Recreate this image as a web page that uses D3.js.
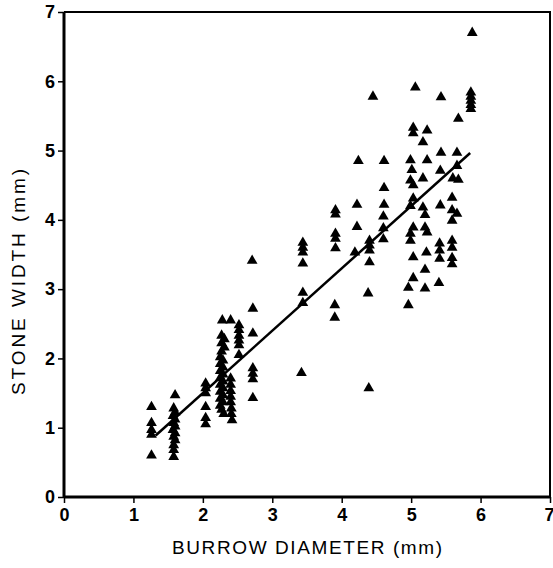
<!DOCTYPE html>
<html>
<head>
<meta charset="utf-8">
<script src="https://cdn.jsdelivr.net/npm/d3@7"></script>
<style>
  body { margin: 0; background: #fff; }
  svg { display: block; }
</style>
</head>
<body>
<svg id="chart" width="553" height="568"></svg>
<script>
// burrow diameter (mm), stone width (mm)
var points = [
  [1.26,1.3],[1.26,1.07],[1.26,0.97],[1.26,0.9],[1.26,0.6],
  [1.6,1.47],[1.58,1.28],[1.6,1.22],[1.57,1.17],[1.6,1.12],[1.58,1.07],[1.6,1.02],[1.57,0.97],
  [1.6,0.92],[1.58,0.87],[1.6,0.82],[1.58,0.75],[1.58,0.68],[1.58,0.58],
  [2.04,1.64],[2.04,1.57],[2.04,1.5],[2.04,1.3],[2.04,1.14],[2.04,1.05],
  [2.28,2.55],[2.4,2.55],[2.27,2.33],[2.31,2.28],[2.27,2.22],[2.31,2.16],[2.27,2.1],[2.25,2.02],
  [2.29,1.97],[2.25,1.92],[2.29,1.87],[2.25,1.82],[2.29,1.77],[2.25,1.72],[2.29,1.67],[2.25,1.62],
  [2.29,1.57],[2.25,1.52],[2.29,1.47],[2.25,1.42],[2.29,1.37],[2.25,1.32],[2.27,1.26],[2.3,1.2],
  [2.4,1.71],[2.4,1.62],[2.4,1.53],[2.4,1.45],[2.4,1.37],[2.41,1.28],[2.41,1.2],[2.42,1.11],
  [2.52,2.48],[2.52,2.41],[2.52,2.33],[2.52,2.26],[2.52,2.19],[2.52,2.05],
  [2.71,3.41],[2.72,2.72],[2.72,2.36],[2.72,1.86],[2.72,1.78],[2.72,1.7],[2.72,1.43],
  [3.44,3.67],[3.44,3.6],[3.44,3.53],[3.44,3.37],[3.44,2.95],[3.44,2.8],[3.42,1.79],
  [3.91,4.14],[3.91,4.08],[3.91,3.8],[3.91,3.73],[3.91,3.59],[3.9,2.77],[3.9,2.59],
  [4.24,4.85],[4.22,4.22],[4.22,3.9],[4.19,3.53],
  [4.45,5.78],[4.4,3.7],[4.4,3.63],[4.4,3.56],[4.4,3.39],[4.38,2.94],[4.39,1.57],
  [4.61,4.85],[4.61,4.46],[4.61,4.22],[4.6,4.05],[4.6,3.88],[4.6,3.72],
  [5.06,5.91],[5.43,5.77],[5.86,5.84],[5.86,5.78],[5.86,5.72],[5.86,5.66],[5.86,5.6],[5.88,6.7],
  [5.68,5.46],[5.03,5.33],[5.03,5.25],[5.23,5.29],[5.17,5.12],[5.43,4.97],[5.66,4.97],
  [4.99,4.86],[5.23,4.86],[5.01,4.72],[5.42,4.71],[5.66,4.78],[4.99,4.57],[5.03,4.5],[5.17,4.6],
  [5.6,4.6],[5.68,4.58],[5.03,4.31],[5.59,4.32],[5.42,4.21],[4.99,4.2],[5.17,4.18],[5.2,4.07],
  [5.59,4.14],[5.66,4.09],[5.59,3.99],[5.03,3.89],[4.99,3.8],[4.99,3.7],[5.2,3.89],[5.23,3.82],
  [5.41,3.66],[5.41,3.56],[5.41,3.44],[5.59,3.7],[5.59,3.6],[5.59,3.45],[5.59,3.36],
  [5.03,3.46],[5.22,3.53],[5.2,3.28],[5.03,3.16],[5.4,3.09],[4.96,3.02],[5.2,3.01],[4.96,2.77]
];
var fitSlope = 0.90;
var fitIntercept = -0.30;
var fitRange = [1.32, 5.85];
var xTicks = [0,1,2,3,4,5,6,7];
var yTicks = [0,1,2,3,4,5,6,7];
var xTitle = "BURROW DIAMETER (mm)";
var yTitle = "STONE WIDTH (mm)";

var svg = d3.select("#chart");
var x = d3.scaleLinear().domain([0, 7]).range([64, 550]);
var y = d3.scaleLinear().domain([0, 7]).range([497, 12]);
var font = "Liberation Sans, Arial, sans-serif";

// frame top + right
svg.append("path").attr("d", "M" + x(0) + "," + y(7) + "H" + x(7) + "V" + y(0))
  .attr("fill", "none").attr("stroke", "#000").attr("stroke-width", 2);

var gx = svg.append("g").attr("transform", "translate(0," + y(0) + ")")
  .call(d3.axisBottom(x).tickValues(xTicks).tickSize(6).tickPadding(5).tickFormat(d3.format("d")));
var gy = svg.append("g").attr("transform", "translate(" + x(0) + ",0)")
  .call(d3.axisLeft(y).tickValues(yTicks).tickSize(6).tickPadding(3).tickFormat(d3.format("d")));
[gx, gy].forEach(function (g) {
  g.select(".domain").remove();
  g.selectAll(".tick line").attr("stroke-width", 1.5);
  g.selectAll("text").attr("font-family", font)
    .attr("font-size", 18).attr("font-weight", "bold").attr("fill", "#000");
});
// keep the last x label inside the picture
gx.selectAll(".tick text").filter(d => d === 7).attr("text-anchor", "end").attr("dx", 4);

svg.append("line").attr("x1", x(0)).attr("x2", x(0)).attr("y1", y(7)).attr("y2", y(0))
  .attr("stroke", "#000").attr("stroke-width", 3);
svg.append("line").attr("x1", x(0)).attr("x2", x(7)).attr("y1", y(0)).attr("y2", y(0))
  .attr("stroke", "#000").attr("stroke-width", 3);

// regression line
svg.append("line")
  .attr("x1", x(fitRange[0])).attr("y1", y(fitSlope * fitRange[0] + fitIntercept))
  .attr("x2", x(fitRange[1])).attr("y2", y(fitSlope * fitRange[1] + fitIntercept))
  .attr("stroke", "#000").attr("stroke-width", 2.5);

var tri = d3.symbol().type(d3.symbolTriangle).size(50);
svg.selectAll(".pt").data(points).join("path").attr("class", "pt")
  .attr("d", tri).attr("fill", "#000")
  .attr("transform", d => "translate(" + x(d[0]) + "," + y(d[1]) + ")");

svg.append("text").attr("x", 307).attr("y", 554).attr("text-anchor", "middle")
  .attr("font-family", font).attr("font-size", 19)
  .attr("textLength", 270).attr("lengthAdjust", "spacing").text(xTitle);
svg.append("text").attr("transform", "translate(25,282) rotate(-90)").attr("text-anchor", "middle")
  .attr("font-family", font).attr("font-size", 19)
  .attr("textLength", 226).attr("lengthAdjust", "spacing").text(yTitle);
</script>
</body>
</html>
